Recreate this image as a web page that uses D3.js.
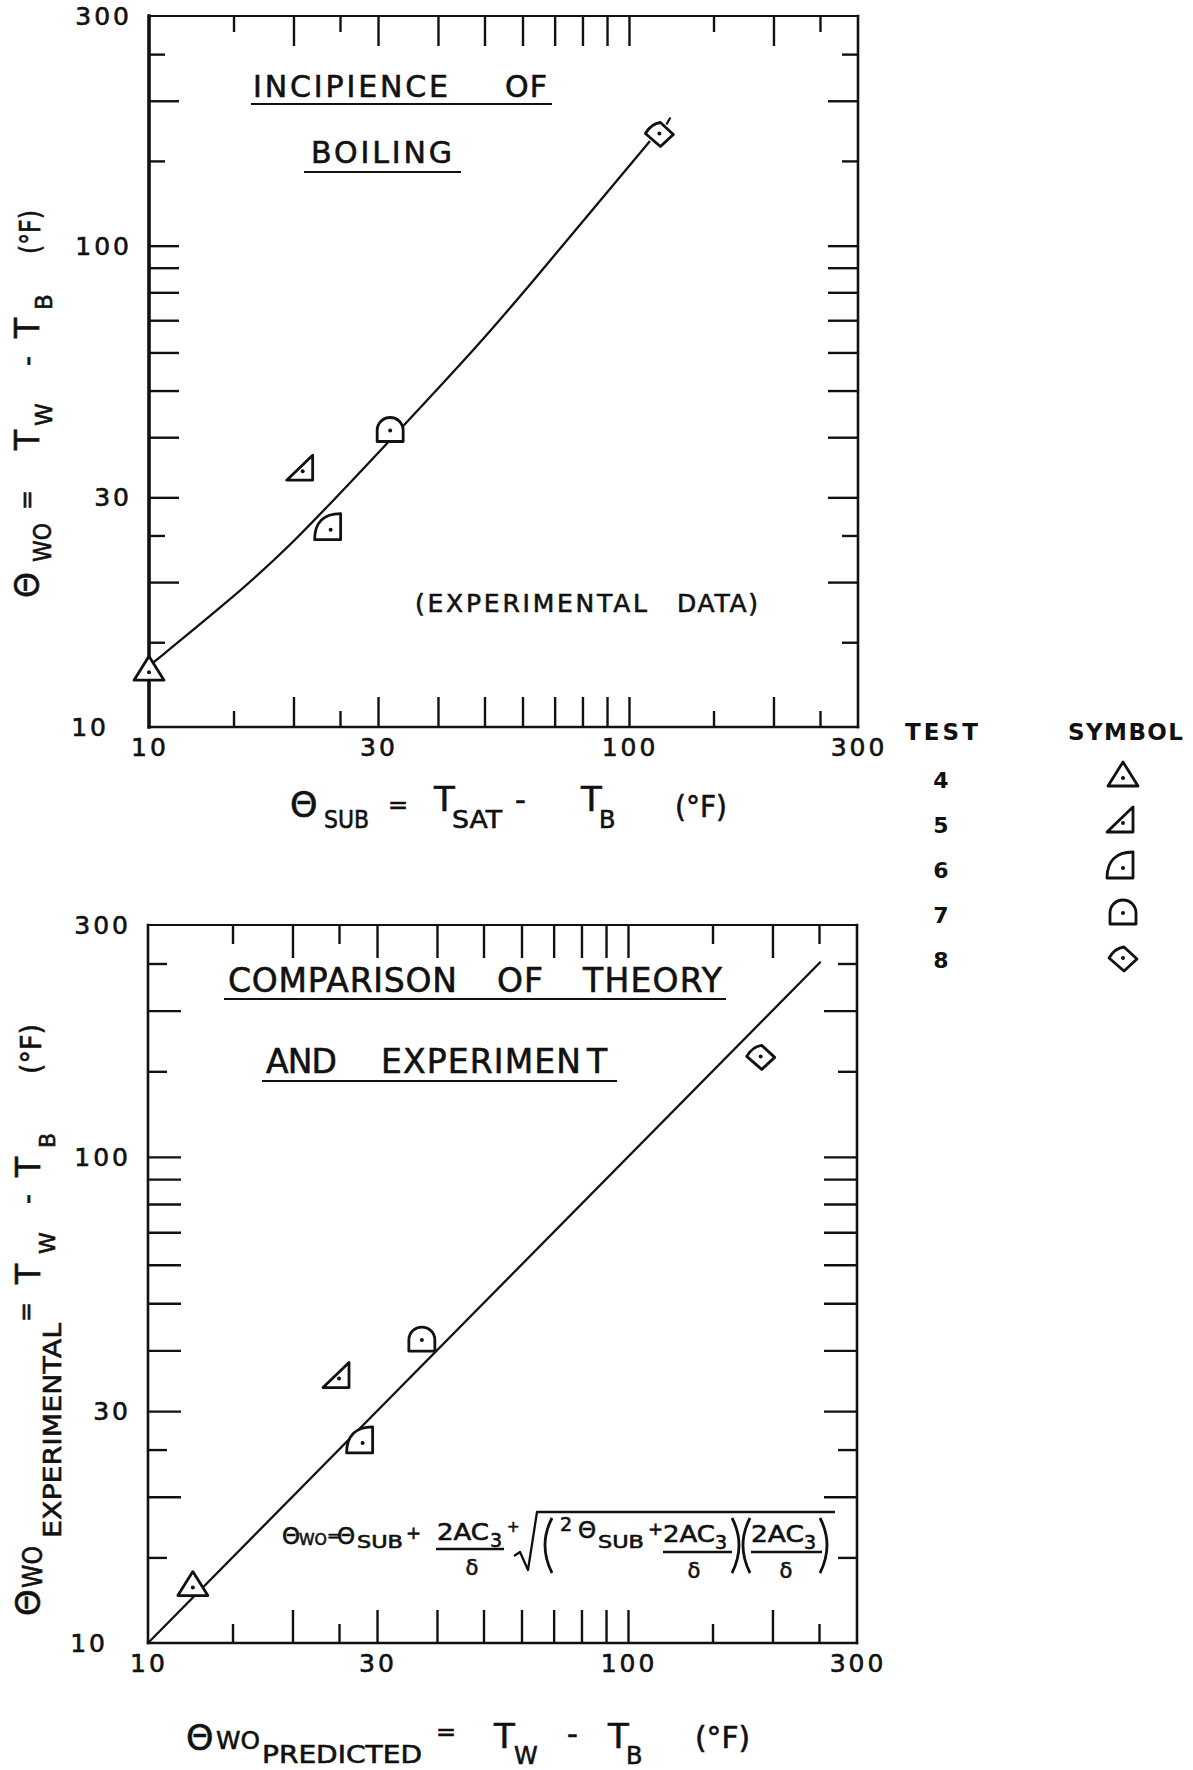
<!DOCTYPE html>
<html>
<head>
<meta charset="utf-8">
<script src="https://cdn.jsdelivr.net/npm/d3@7"></script>
<style>
  html, body { margin: 0; padding: 0; background: #fff; }
  svg { display: block; }
  text { font-family: "DejaVu Sans", "Liberation Sans", sans-serif; fill: #111; stroke: #111; stroke-width: 0.6px; }
  text.bold { stroke-width: 0; }
</style>
</head>
<body>
<svg id="fig" width="1193" height="1770"></svg>
<script>
// ---- data -------------------------------------------------------------
// test numbers (legend order)
const tests = [4, 5, 6, 7, 8];

// incipience of boiling: subcooling vs. wall superheat at onset (deg F)
const incipSub = [10.0, 20.9, 23.9, 31.8, 115.7];
const incipWo  = [13.0, 34.0, 25.7, 41.3, 171];

// faired curve through the experimental points
const curveSub = [10.2, 14.1, 19.4, 31.3, 49.6, 64.0, 87.1, 110.6];
const curveWo  = [13.6, 17.7, 23.3, 38.8, 63.5, 85.9, 124, 165];

// theory vs. experiment
const predWo = [12.4, 25.0, 28.0, 37.2, 189];
const expWo  = [13.0, 35.0, 25.8, 42.0, 161];

// line of perfect agreement (predicted = experimental)
const agreeLine = [10, 252];

// log-paper ticks and labels
const tickValues = [15, 20, 25, 30, 40, 50, 60, 70, 80, 90, 100, 150, 200, 250];
const shortTicks = [15, 25, 150, 250];
const tickLabels = [10, 30, 100, 300];

// ---- drawing ----------------------------------------------------------
const ink = "#111";
const svg = d3.select("#fig");

function txt(g, x, y, s, size, opt = {}) {
  const t = g.append("text").attr("x", x).attr("y", y)
    .attr("font-size", size).text(s);
  if (opt.anchor) t.attr("text-anchor", opt.anchor);
  if (opt.len) t.attr("textLength", opt.len).attr("lengthAdjust", opt.adj || "spacingAndGlyphs");
  if (opt.weight) t.attr("font-weight", opt.weight).attr("class", "bold");
  if (opt.ls !== undefined) t.attr("letter-spacing", opt.ls);
  return t;
}
// text reading bottom-to-top, starting at (x, y) on its baseline
function rtxt(g, x, y, s, size, opt = {}) {
  const t = g.append("text").attr("transform", `translate(${x},${y}) rotate(-90)`)
    .attr("font-size", size).text(s);
  if (opt.len) t.attr("textLength", opt.len).attr("lengthAdjust", opt.adj || "spacingAndGlyphs");
  return t;
}
function hline(g, x1, x2, y, w = 2) {
  g.append("line").attr("x1", x1).attr("x2", x2).attr("y1", y).attr("y2", y)
    .attr("stroke", ink).attr("stroke-width", w);
}

// plotting symbols, centred on the point
const symbolPath = {
  4: "M0,-16 L15,8 L-15,8 Z",
  5: "M10,-16 L10,9 L-16,9 Z",
  6: "M-16,10 L10,10 L10,-16 C-7,-16 -16,-7 -16,10 Z",
  7: "M-13,11 L-13,0 A13,13 0 0 1 13,0 L13,11 Z",
  8: "M-14,0 Q-8,-10 1,-11 L14,1 L1,13 Z"
};
function drawSymbol(g, cx, cy, test, flag) {
  const s = g.append("g").attr("transform", `translate(${cx},${cy})`);
  s.append("path").attr("d", symbolPath[test])
    .attr("fill", "#fff").attr("stroke", ink).attr("stroke-width", 2.8)
    .attr("stroke-linejoin", "round");
  s.append("circle").attr("r", 2).attr("fill", ink);
  if (flag) {
    s.append("line").attr("x1", 7).attr("y1", -9).attr("x2", 11).attr("y2", -16)
      .attr("stroke", ink).attr("stroke-width", 2.2);
  }
}

function panel(p) {
  const g = svg.append("g");
  const x = d3.scaleLog().domain([10, 300]).range([p.left, p.right]);
  const y = d3.scaleLog().domain([10, 300]).range([p.bottom, p.top]);

  // inward ticks on all four sides
  const len = d => shortTicks.includes(d) ? p.minor : p.major;
  const addAxis = (axis, tr, attr, sign) => {
    const a = g.append("g").attr("transform", tr)
      .call(axis.tickValues(tickValues).tickFormat(""));
    a.select(".domain").remove();
    a.selectAll(".tick line").attr("stroke", ink).attr("stroke-width", 2.4)
      .attr(attr, d => sign * len(d));
  };
  addAxis(d3.axisTop(x), `translate(0,${p.bottom})`, "y2", -1);
  addAxis(d3.axisBottom(x), `translate(0,${p.top})`, "y2", 1);
  addAxis(d3.axisRight(y), `translate(${p.left},0)`, "x2", 1);
  addAxis(d3.axisLeft(y), `translate(${p.right},0)`, "x2", -1);

  // frame
  const fr = [[p.left, p.top, p.right, p.top, 2.2], [p.right, p.top, p.right, p.bottom, 2.6],
              [p.left, p.bottom, p.right, p.bottom, 2.4], [p.left, p.top, p.left, p.bottom, p.leftW]];
  fr.forEach(f => g.append("line").attr("x1", f[0]).attr("y1", f[1]).attr("x2", f[2]).attr("y2", f[3])
    .attr("stroke", ink).attr("stroke-width", f[4]).attr("stroke-linecap", "square"));

  // tick labels
  tickLabels.forEach(v => {
    txt(g, x(v) + 1, p.bottom + 29, String(v), 25, { anchor: "middle", ls: 3 });
    const xr = v === 10 ? p.left - 40 : p.left - 17;
    txt(g, xr, y(v) + 9, String(v), 25, { anchor: "end", ls: 3 });
  });
  return { g, x, y };
}

// ---------------- upper panel: incipience of boiling -------------------
const P1 = { left: 149, right: 858, top: 16, bottom: 727, major: 30, minor: 16, leftW: 3.6 };
const a = panel(P1);

const curve = d3.line().x(d => a.x(d[0])).y(d => a.y(d[1])).curve(d3.curveBasis);
a.g.append("path").datum(d3.zip(curveSub, curveWo)).attr("d", curve)
  .attr("fill", "none").attr("stroke", ink).attr("stroke-width", 2.3);

tests.forEach((t, i) => drawSymbol(a.g, a.x(incipSub[i]), a.y(incipWo[i]), t, t === 8));

// title
txt(a.g, 253, 97, "INCIPIENCE", 30, { len: 195, adj: "spacing" });
txt(a.g, 505, 97, "OF", 30, { len: 42, adj: "spacing" });
hline(a.g, 251, 552, 104, 2.2);
txt(a.g, 311, 163, "BOILING", 30, { len: 141, adj: "spacing" });
hline(a.g, 304, 461, 172, 2.2);
txt(a.g, 415, 612, "(EXPERIMENTAL", 25, { len: 232, adj: "spacing" });
txt(a.g, 677, 612, "DATA)", 25, { len: 81, adj: "spacing" });

// axis titles
txt(a.g, 290, 817, "\u0398", 35);
txt(a.g, 324, 828, "SUB", 24, { len: 45 });
txt(a.g, 388, 813, "=", 24);
txt(a.g, 434, 811, "T", 34);
txt(a.g, 452, 828, "SAT", 24, { len: 50 });
txt(a.g, 515, 810, "-", 30);
txt(a.g, 581, 811, "T", 34);
txt(a.g, 599, 828, "B", 24);
txt(a.g, 675, 817, "(\u00B0F)", 30, { len: 52 });

rtxt(a.g, 39, 598, "\u0398", 33);
rtxt(a.g, 51, 562, "WO", 25, { len: 39 });
rtxt(a.g, 35, 510, "=", 24);
rtxt(a.g, 39, 450, "T", 33);
rtxt(a.g, 52, 426, "W", 23);
rtxt(a.g, 37, 366, "-", 28);
rtxt(a.g, 39, 338, "T", 33);
rtxt(a.g, 52, 310, "B", 23);
rtxt(a.g, 40, 254, "(\u00B0F)", 28, { len: 44 });

// ---------------- lower panel: theory vs. experiment -------------------
const P2 = { left: 148, right: 857, top: 925, bottom: 1643, major: 33, minor: 19, leftW: 2.6 };
const b = panel(P2);

b.g.append("line")
  .attr("x1", b.x(agreeLine[0])).attr("y1", b.y(agreeLine[0]))
  .attr("x2", b.x(agreeLine[1])).attr("y2", b.y(agreeLine[1]))
  .attr("stroke", ink).attr("stroke-width", 2.3);

tests.forEach((t, i) => drawSymbol(b.g, b.x(predWo[i]), b.y(expWo[i]), t, false));

// title
txt(b.g, 228, 992, "COMPARISON", 33, { len: 229, adj: "spacing" });
txt(b.g, 497, 992, "OF", 33, { len: 46, adj: "spacing" });
txt(b.g, 583, 992, "THEORY", 33, { len: 139, adj: "spacing" });
hline(b.g, 224, 726, 999, 2.2);
txt(b.g, 266, 1073, "AND", 33, { len: 71, adj: "spacing" });
txt(b.g, 381, 1073, "EXPERIMEN", 33, { len: 200, adj: "spacing" });
txt(b.g, 587, 1073, "T", 33);
hline(b.g, 262, 617, 1081, 2.2);

// formula
const fz = b.g.append("g");
txt(fz, 282, 1544, "\u0398", 23);
txt(fz, 299, 1545, "WO", 16, { len: 28 });
txt(fz, 327, 1541, "=", 16);
txt(fz, 337, 1544, "\u0398", 23);
txt(fz, 357, 1548, "SUB", 17, { len: 46 });
txt(fz, 406, 1539, "+", 18);
txt(fz, 437, 1540, "2AC", 23, { len: 52 });
txt(fz, 490, 1547, "3", 19);
hline(fz, 436, 504, 1549, 2.4);
txt(fz, 472, 1575, "\u03B4", 21, { anchor: "middle" });
txt(fz, 507, 1532, "+", 15);
fz.append("path").attr("d", "M514,1556 L520,1552 L528,1570 L537,1512 L835,1512")
  .attr("fill", "none").attr("stroke", ink).attr("stroke-width", 2.3).attr("stroke-linejoin", "round");
const paren = (x0, dir) => fz.append("path")
  .attr("d", `M${x0},1518 Q${x0 - dir * 14},1545 ${x0},1573`)
  .attr("fill", "none").attr("stroke", ink).attr("stroke-width", 2.8);
paren(552, 1);
txt(fz, 560, 1531, "2", 19);
txt(fz, 578, 1538, "\u0398", 23);
txt(fz, 598, 1548, "SUB", 17, { len: 46 });
txt(fz, 648, 1535, "+", 18);
txt(fz, 663, 1542, "2AC", 23, { len: 52 });
txt(fz, 715, 1549, "3", 19);
hline(fz, 663, 732, 1552, 2.4);
txt(fz, 694, 1578, "\u03B4", 21, { anchor: "middle" });
paren(732, -1);
paren(750, 1);
txt(fz, 751, 1542, "2AC", 23, { len: 53 });
txt(fz, 804, 1549, "3", 19);
hline(fz, 751, 822, 1552, 2.4);
txt(fz, 786, 1578, "\u03B4", 21, { anchor: "middle" });
paren(820, -1);

// axis titles
txt(b.g, 186, 1750, "\u0398", 35);
txt(b.g, 216, 1749, "WO", 25, { len: 44 });
txt(b.g, 262, 1763, "PREDICTED", 24, { len: 160 });
txt(b.g, 436, 1740, "=", 24);
txt(b.g, 494, 1748, "T", 34);
txt(b.g, 514, 1764, "W", 24);
txt(b.g, 567, 1744, "-", 30);
txt(b.g, 608, 1748, "T", 34);
txt(b.g, 626, 1764, "B", 24);
txt(b.g, 695, 1748, "(\u00B0F)", 30, { len: 55 });

rtxt(b.g, 40, 1616, "\u0398", 34);
rtxt(b.g, 42, 1588, "WO", 27, { len: 42 });
rtxt(b.g, 61, 1538, "EXPERIMENTAL", 25, { len: 215 });
rtxt(b.g, 34, 1322, "=", 24);
rtxt(b.g, 40, 1284, "T", 33);
rtxt(b.g, 55, 1254, "W", 22);
rtxt(b.g, 37, 1204, "-", 28);
rtxt(b.g, 40, 1177, "T", 33);
rtxt(b.g, 55, 1148, "B", 22);
rtxt(b.g, 41, 1074, "(\u00B0F)", 28, { len: 50 });

// ---------------- legend ----------------
const lg = svg.append("g");
txt(lg, 905, 740, "TEST", 23, { weight: "bold", len: 73, adj: "spacing" });
txt(lg, 1068, 740, "SYMBOL", 23, { weight: "bold", len: 115, adj: "spacing" });
const row = d3.scalePoint().domain(tests).range([778, 958]);
tests.forEach(t => {
  txt(lg, 941, row(t) + 10, String(t), 22, { anchor: "middle", weight: "bold" });
  drawSymbol(lg, 1123, row(t), t, false);
});
</script>
</body>
</html>
